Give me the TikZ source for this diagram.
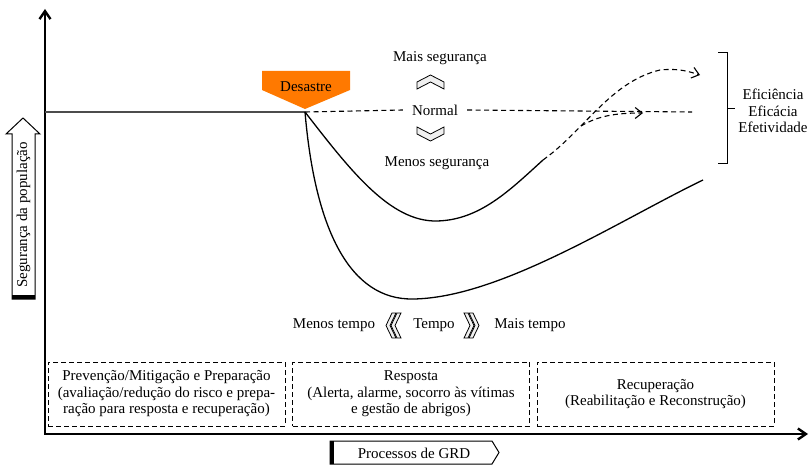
\documentclass[tikz,border=0pt]{standalone}
\usepackage{fontspec}
\setmainfont{Liberation Serif}
\usetikzlibrary{arrows,arrows.meta}

\begin{document}
\begin{tikzpicture}[x=1pt,y=-1pt,font=\fontsize{15}{16.5}\selectfont,
	dsh/.style={dash pattern=on 5pt off 3.5pt,line width=1.1pt},
	gbox/.style={draw,dash pattern=on 5pt off 3pt,line width=1pt,minimum width=237pt,minimum height=64pt,align=center,inner sep=0pt},
	chev/.style={draw,line width=0.8pt,fill=gray!12}]
\useasboundingbox (0,0) rectangle (811,465);
% axes
\coordinate (o) at (45,434);
\coordinate (yt) at (45,9);
\coordinate (xt) at (808,434);
\draw [<->,>={Straight Barb[length=8pt,width=11pt]},line width=2.4pt](yt)--(o)--(xt);
% block arrows on the axes
\draw [line width=1pt,fill=white] (12,299)--(12,134)--(6,134)--(23,118)--(40,134)--(35,134)--(35,299)--cycle;
\draw [line width=4pt] (12,297)--(35,297);
\node (seg) at (23.5,215) [rotate=90] {Segurança da população};
\draw [line width=1pt,fill=white] (330,441)--(492,441)--(499,452.5)--(492,464)--(330,464)--cycle;
\draw [line width=4pt] (331.5,441)--(331.5,464);
\node (grd) at (414,453) {Processos de GRD};
% normal level and disaster
\coordinate (b0) at (45,112);
\coordinate (d) at (305,112);
\draw [line width=1.5pt,gray!60!black](b0)--(d);
\fill [orange!95!red] (262,71)--(350,71)--(350,90)--(305,109)--(262,90)--cycle;
\node (des) at (306,87) {Desastre};
\node (nor) at (435,110) [inner xsep=9pt] {Normal};
\coordinate (ne) at (692,112);
\draw [dsh](d)--(nor.west);
\draw [dsh](nor.east)--(ne);
\node (mais) at (440,58) {Mais segurança};
\node (menos) at (437,163) {Menos segurança};
\draw [chev] (417,82)--(430.5,75)--(444,82)--(444,89)--(430.5,82)--(417,89)--cycle;
\draw [chev] (417,127)--(430.5,134)--(444,127)--(444,134)--(430.5,141)--(417,134)--cycle;
% curves
\coordinate (c1) at (543,160);
\coordinate (up) at (700,75);
\coordinate (sp) at (581,126);
\coordinate (mid) at (643,113);
\coordinate (e2) at (703,180);
\draw [line width=1.3pt](d) .. controls (350,170) and (390,222) .. (437,221) .. controls (480,220) and (510,190) .. (c1);
\draw [dsh,->,>={Straight Barb[length=7pt,width=11pt]}](c1) .. controls (585,130) and (610,82) .. (660,70) .. controls (680,68) and (690,72) .. (up);
\draw [dsh,->,>={Straight Barb[length=7pt,width=11pt]}](sp) .. controls (598,116) and (615,113) .. (mid);
\draw [line width=1.3pt](d) .. controls (315,230) and (350,300) .. (413,299) .. controls (500,298) and (620,220) .. (e2);
% results
\draw [line width=1pt] (718,53)--(727,53)--(727,164)--(718,164);
\draw [line width=1pt] (727,109)--(735,109);
\node (eff) at (773,111) [align=center] {Eficiência\\Eficácia\\Efetividade};
% time
\node (mt) at (334,325) {Menos tempo};
\node (tp) at (434,325) {Tempo};
\node (pt) at (530,325) {Mais tempo};
\draw [chev] (392,313)--(386,325.5)--(392,338)--(396,338)--(390,325.5)--(396,313)--cycle;
\draw [chev] (397,313)--(391,325.5)--(397,338)--(401,338)--(395,325.5)--(401,313)--cycle;
\draw [chev] (468,313)--(474,325.5)--(468,338)--(464,338)--(470,325.5)--(464,313)--cycle;
\draw [chev] (473,313)--(479,325.5)--(473,338)--(469,338)--(475,325.5)--(469,313)--cycle;
% phases
\node (pre) at (166.5,394) [gbox] {Prevenção/Mitigação e Preparação\\(avaliação/redução do risco e prepa-\\ração para resposta e recuperação)};
\node (res) at (411,394) [gbox] {Resposta\\(Alerta, alarme, socorro às vítimas\\e gestão de abrigos)};
\node (rec) at (655.5,394) [gbox] {Recuperação\\(Reabilitação e Reconstrução)};
\end{tikzpicture}
\end{document}
